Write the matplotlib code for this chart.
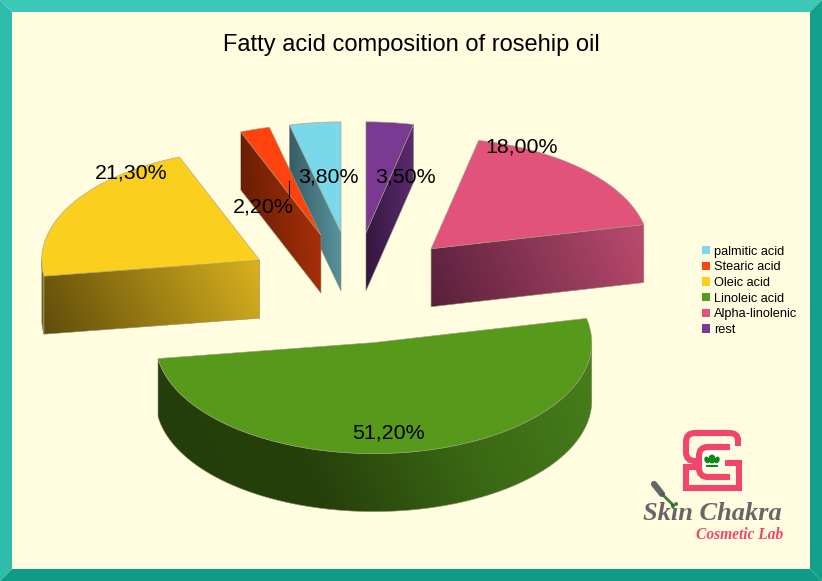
import numpy as np
import matplotlib
matplotlib.use('Agg')
from matplotlib import pyplot as plt
from matplotlib.colors import to_rgb
from matplotlib.patches import Polygon, Patch, PathPatch, Rectangle, Ellipse, Circle
from matplotlib.path import Path

plt.rcParams['font.family'] = ['Liberation Sans', 'DejaVu Sans']

# chart data
labels = ['palmitic acid', 'Stearic acid', 'Oleic acid', 'Linoleic acid', 'Alpha-linolenic', 'rest']
values = [3.8, 2.2, 21.3, 51.2, 18.0, 3.5]
value_text = ['3,80%', '2,20%', '21,30%', '51,20%', '18,00%', '3,50%']
colors = ['#7bd8ea', '#ff420e', '#fbcf1e', '#57991b', '#e2537b', '#7a3a92']
side_colors = [
    ['#33535c', '#5d9ba6'],
    ['#611c05', '#b03208'],
    ['#5f4c0a', '#d9b21f'],
    ['#243e0b', '#26400b', '#3a6814', '#487f1b'],
    ['#58203a', '#bb4b6e'],
    ['#33163f', '#5c2b70'],
]
label_pos = [(328, 177), (263, 207), (131, 173), (388, 433), (522, 147), (405, 177)]
draw_order = [0, 1, 5, 2, 4, 3]

# pie geometry in pixels
CX, CY = 354, 288
RX, RY = 218, 111
DEPTH = 58
EXPLODE = 0.5

fig = plt.figure(figsize=(8.22, 5.81), dpi=100, facecolor='#fffce0')
ax = fig.add_axes([0, 0, 1, 1])
ax.set_xlim(0, 822)
ax.set_ylim(581, 0)
ax.axis('off')

# frame
ax.add_patch(Polygon([(0, 0), (822, 0), (810, 12), (12, 12)], fc='#3cc8b6', ec='none'))
ax.add_patch(Polygon([(0, 0), (12, 12), (12, 569), (0, 581)], fc='#2fbdaa', ec='none'))
ax.add_patch(Polygon([(822, 0), (822, 581), (810, 569), (810, 12)], fc='#13a08d', ec='none'))
ax.add_patch(Polygon([(0, 581), (12, 569), (810, 569), (822, 581)], fc='#109b88', ec='none'))

ax.text(411, 44.5, 'Fatty acid composition of rosehip oil', fontsize=17, color='black', ha='center', va='center')


def pt(c, a):
    r = np.radians(a)
    return c[0] + RX * np.cos(r), c[1] - RY * np.sin(r)


def shade(poly, stops, z):
    # gradient fill, lighter to the upper right, cut to the face outline
    pts = np.array(poly)
    x0, y0 = pts.min(axis=0)
    x1, y1 = pts.max(axis=0)
    xx, yy = np.meshgrid(np.linspace(0, 1, 200), np.linspace(0, 1, 100))
    t = 0.85 * xx + 0.15 * (1 - yy)
    pos = np.linspace(0, 1, len(stops))
    rgb = np.array([to_rgb(s) for s in stops])
    img = np.dstack([np.interp(t, pos, rgb[:, i]) for i in range(3)])
    face = Polygon(poly, fc='none', ec='#8f8f70', lw=0.4, zorder=z + 0.1)
    ax.add_patch(face)
    im = ax.imshow(img, extent=(x0, x1, y1, y0), aspect='auto', zorder=z, interpolation='bilinear')
    im.set_clip_path(face)


starts = 90 + np.concatenate([[0], np.cumsum(values)[:-1]]) * 3.6
ends = 90 + np.cumsum(values) * 3.6

for n, i in enumerate(draw_order):
    a0, a1 = starts[i], ends[i]
    mid = np.radians((a0 + a1) / 2)
    c = (CX + EXPLODE * RX * np.cos(mid), CY - EXPLODE * RY * np.sin(mid))
    z = 2 + n
    down = lambda p: (p[0], p[1] + DEPTH)

    # radial side faces
    if np.cos(np.radians(a1)) < -1e-6:
        shade([c, pt(c, a1), down(pt(c, a1)), down(c)], side_colors[i], z)
    if np.cos(np.radians(a0)) > 1e-6:
        shade([c, pt(c, a0), down(pt(c, a0)), down(c)], side_colors[i], z)

    # outer wall, only the front half shows
    lo, hi = max(a0, 180), min(a1, 360)
    if hi > lo:
        arc = [pt(c, a) for a in np.linspace(lo, hi, 120)]
        shade(arc + [down(p) for p in arc[::-1]], side_colors[i], z)

    # top
    top = [c] + [pt(c, a) for a in np.linspace(a0, a1, 120)]
    ax.add_patch(Polygon(top, fc=colors[i], ec='#a0a080', lw=0.4, zorder=z + 0.2))

ax.set_xlim(0, 822)
ax.set_ylim(581, 0)

for txt, (x, y) in zip(value_text, label_pos):
    ax.text(x, y, txt, fontsize=15.4, color='black', ha='center', va='center', zorder=20)
ax.plot([289, 289], [181, 197], color='black', lw=0.8, zorder=20)

handles = [Patch(fc=col, ec='none') for col in colors]
ax.legend(handles, labels, loc='upper left', bbox_to_anchor=(702, 245.5), bbox_transform=ax.transData,
          frameon=False, fontsize=9.2, borderpad=0, borderaxespad=0, labelspacing=0.29,
          handlelength=0.63, handleheight=0.63, handletextpad=0.33)

# logo
PINK = '#f0456c'


def stroke(verts, codes):
    ax.add_patch(PathPatch(Path(verts, codes), fc='none', ec=PINK, lw=4.4, capstyle='butt', zorder=10))


M, L, Q = Path.MOVETO, Path.LINETO, Path.CURVE3
stroke([(738, 446), (738, 440), (738, 433), (729, 433), (695, 433), (686, 433), (686, 442), (686, 452), (686, 461),
        (695, 461), (700, 461)],
       [M, L, Q, Q, L, Q, Q, L, Q, Q, L])
stroke([(696, 467), (686, 467), (686, 473), (686, 479), (686, 488), (695, 488), (730, 488), (739, 488), (739, 479),
        (739, 463), (725, 463)],
       [M, L, Q, Q, L, Q, Q, L, Q, Q, L])
stroke([(730, 447), (708, 447), (699, 447), (699, 456), (699, 468), (699, 477), (708, 477), (730, 477)],
       [M, L, Q, Q, L, Q, Q, L])
ax.add_patch(Rectangle((703, 452), 18, 16, fc='white', ec='none', zorder=11))
ax.add_patch(Ellipse((712, 459), 7, 9, fc='#0a8a12', ec='none', zorder=12))
ax.add_patch(Ellipse((707, 460), 5, 7, fc='#0a8a12', ec='none', zorder=12, angle=-25))
ax.add_patch(Ellipse((717, 460), 5, 7, fc='#0a8a12', ec='none', zorder=12, angle=25))
ax.add_patch(Rectangle((706, 465), 12, 1.5, fc='#0a8a12', ec='none', zorder=12))

ax.plot([654, 662], [484, 494], color='#666666', lw=4.5, solid_capstyle='round', zorder=10)
ax.plot([662, 673], [494, 505], color='#555555', lw=2, zorder=10)
ax.plot([664, 671], [496, 503], color='#2a9a2a', lw=1, zorder=11)
ax.add_patch(Circle((673, 506), 2, fc='#0a8a12', ec='none', zorder=12))

ax.text(712, 513, 'Skin Chakra', fontsize=19, color='#666666', family=['Liberation Serif'], style='italic',
        weight='bold', ha='center', va='center', zorder=10)
ax.text(740, 535, 'Cosmetic Lab', fontsize=11.2, color=PINK, family=['Liberation Serif'], style='italic',
        weight='bold', ha='center', va='center', zorder=10)

fig.savefig('out.png', dpi=100, facecolor=fig.get_facecolor())
